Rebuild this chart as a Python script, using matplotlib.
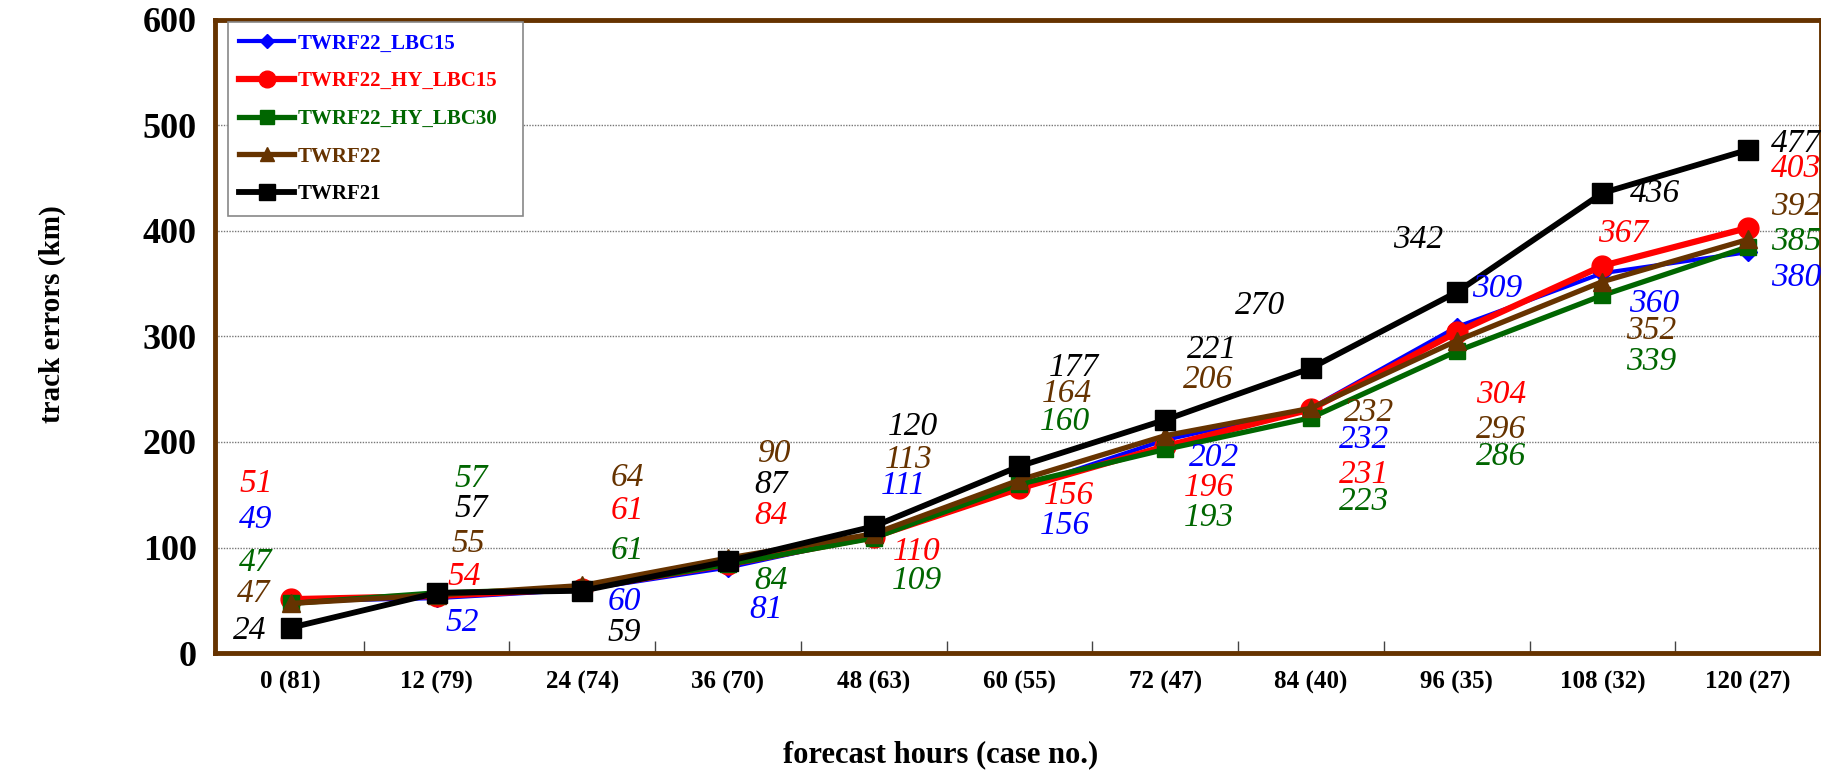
import matplotlib
matplotlib.use("Agg")
import matplotlib.pyplot as plt
from matplotlib.ticker import FixedLocator

plt.rcParams['font.family'] = ['Liberation Serif', 'DejaVu Serif']

# ---------------- data ----------------
categories = ["0 (81)", "12 (79)", "24 (74)", "36 (70)", "48 (63)", "60 (55)",
              "72 (47)", "84 (40)", "96 (35)", "108 (32)", "120 (27)"]
series_names = ["TWRF22_LBC15", "TWRF22_HY_LBC15", "TWRF22_HY_LBC30", "TWRF22", "TWRF21"]
lbc15 = [49, 52, 60, 81, 111, 156, 202, 232, 309, 360, 380]
hy_lbc15 = [51, 54, 61, 84, 110, 156, 196, 231, 304, 367, 403]
hy_lbc30 = [47, 57, 61, 84, 109, 160, 193, 223, 286, 339, 385]
twrf22 = [47, 55, 64, 90, 113, 164, 206, 232, 296, 352, 392]
twrf21 = [24, 57, 59, 87, 120, 177, 221, 270, 342, 436, 477]
yticks = [0, 100, 200, 300, 400, 500, 600]

# ---------------- styles ----------------
colors = ["#0000FF", "#FF0000", "#006600", "#663300", "#000000"]
markers = ["D", "o", "s", "^", "s"]
msizes = [9, 15, 12, 13, 14]
lwidths = [3.0, 4.5, 3.8, 3.8, 4.2]

# label offsets (dx, dy) in reference pixels (y down), per series per point
label_offsets = [
    [(-30, -70), (22, 21), (36, 10), (33, 36), (26, -43), (39, 32), (42, 15), (46, 27), (35, -33), (45, 26), (41, 22)],
    [(-30, -99), (24, -17), (39, -67), (37, -42), (37, 13), (43, 6), (38, 36), (46, 56), (38, 54), (18, -28), (41, -51)],
    [(-30, -35), (30, -98), (39, -33), (37, 14), (37, 37), (39, -54), (38, 59), (46, 72), (38, 91), (42, 57), (41, -4)],
    [(-32, -8), (27, -44), (39, -93), (39, -90), (30, -64), (41, -74), (37, -48), (50, 4), (38, 77), (42, 42), (41, -28)],
    [(-35, 3), (30, -72), (36, 36), (37, -66), (34, -86), (47, -85), (40, -60), (-44, -54), (-33, -45), (45, 1), (41, -5)],
]
K = 1821 / 1568 * 72 / 100

fig = plt.figure(figsize=(18.21, 7.71), dpi=100)
ax = fig.add_axes([215 / 1821, 1 - 653 / 771, 1 - 215 / 1821, (653 - 20) / 771])

all_series = [lbc15, hy_lbc15, hy_lbc30, twrf22, twrf21]
x = list(range(len(categories)))
for vals, name, c, m, ms, lw, offs in zip(all_series, series_names, colors, markers,
                                          msizes, lwidths, label_offsets):
    ax.plot(x, vals, color=c, marker=m, markersize=ms, linewidth=lw, label=name,
            markeredgecolor=c, markerfacecolor=c, solid_joinstyle='round')
    for xi, v, (dx, dy) in zip(x, vals, offs):
        ax.annotate(str(v), (xi, v), xytext=(dx * K, -dy * K), textcoords='offset points',
                    ha='center', va='center', color=c, fontsize=24, fontstyle='italic',
                    annotation_clip=False)

ax.set_xlim(-0.52, 10.5)
ax.set_ylim(0, 600)
ax.set_yticks(yticks)
ax.set_yticklabels([str(t) for t in yticks], fontsize=26, fontweight='bold')
ax.set_xticks(x)
ax.set_xticklabels(categories, fontsize=18, fontweight='bold')
ax.xaxis.set_minor_locator(FixedLocator([i + 0.5 for i in range(len(categories) - 1)]))
ax.tick_params(axis='x', which='major', length=0, pad=13)
ax.tick_params(axis='x', which='minor', length=9, direction='in', color='#444444', width=1)
ax.tick_params(axis='y', length=0, pad=13)

ax.grid(axis='y', color='#777777', linestyle=(0, (1, 1)), linewidth=1)
ax.set_axisbelow(True)
for s in ax.spines.values():
    s.set_color('#663300')
    s.set_linewidth(3.5)

ax.set_ylabel("track errors (km)", fontsize=21, fontweight='bold', va='center')
ax.yaxis.set_label_coords(-0.1015, 0.536)
ax.set_xlabel("forecast hours (case no.)", fontsize=22, fontweight='bold', va='center')
ax.xaxis.set_label_coords(0.452, -0.161)

leg = ax.legend(loc='upper left',
                bbox_to_anchor=(228 / 1821, 1 - 206 / 771, (523 - 228) / 1821, (206 - 22) / 771),
                bbox_transform=fig.transFigure, mode='expand', borderaxespad=0,
                prop={'weight': 'bold', 'size': 15}, handlelength=2.6, labelspacing=0.85,
                fancybox=False, framealpha=1, edgecolor='#888888', borderpad=0.55,
                handletextpad=0.2, markerscale=0.8)
leg.get_frame().set_linewidth(1.2)
for t, c in zip(leg.get_texts(), colors):
    t.set_color(c)

fig.savefig("out.png", dpi=100)
